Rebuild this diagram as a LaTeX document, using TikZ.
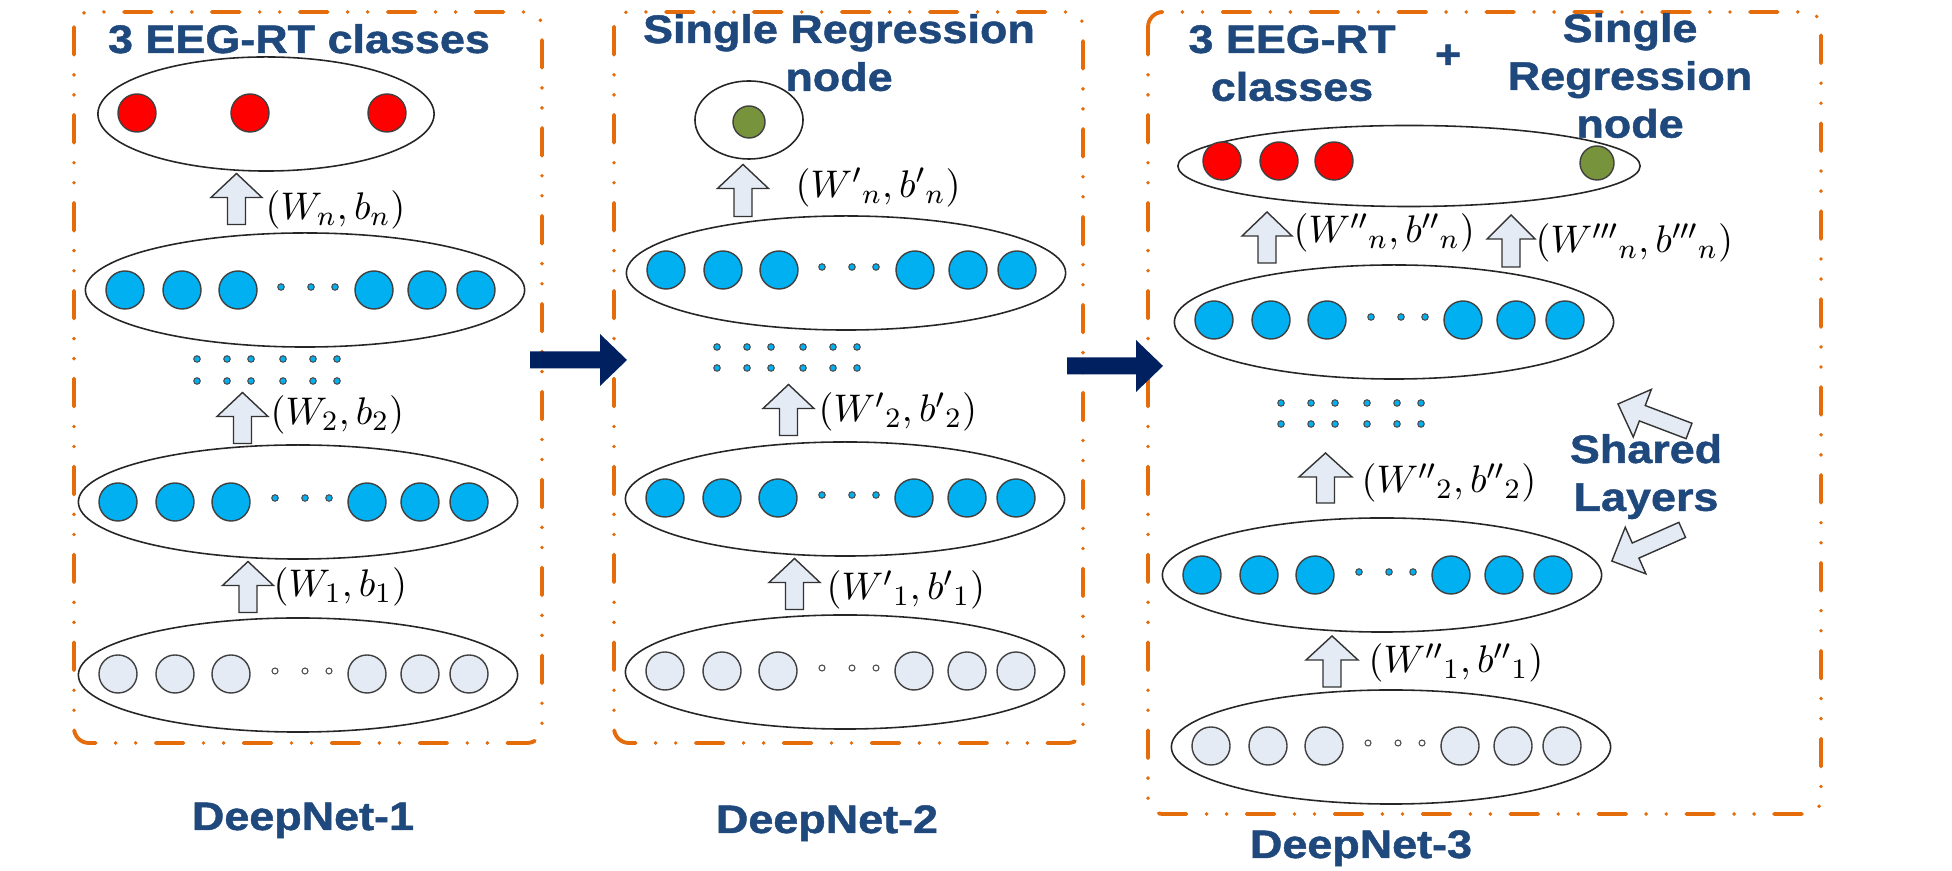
\documentclass[tikz,border=0pt]{standalone}
\usepackage{fontspec}
\setmainfont{Liberation Sans}
\newfontfamily\headfont{Liberation Sans}[FakeStretch=1.13,BoldFeatures={FakeBold=1.2}]
\usetikzlibrary{shapes.geometric}

\definecolor{titleblue}{RGB}{31,73,125}
\definecolor{boxorange}{RGB}{228,108,10}
\definecolor{unitblue}{RGB}{0,176,240}
\definecolor{unitred}{RGB}{255,0,0}
\definecolor{unitgreen}{RGB}{119,147,60}
\definecolor{unitpale}{RGB}{228,235,245}
\definecolor{navy}{RGB}{0,32,96}

\tikzset{
  pics/blockarrow/.style args={#1/#2/#3/#4}{code={
    \path[pic actions] (-#1/2,-#2) -- (#1/2-#4,-#2) -- (#1/2-#4,-#3) -- (#1/2,0)
      -- (#1/2-#4,#3) -- (#1/2-#4,#2) -- (-#1/2,#2) -- cycle;}}}

\begin{document}
\begin{tikzpicture}[x=0.01cm,y=-0.01cm,
  layer/.style={ellipse,draw=black!85,line width=0.45pt,minimum width=4.39cm,minimum height=1.14cm,inner sep=0pt},
  unit/.style={circle,draw=black!75,line width=0.4pt,minimum size=0.38cm,inner sep=0pt},
  outunit/.style={unit,fill=unitred},
  hidunit/.style={unit,fill=unitblue},
  inunit/.style={unit,fill=unitpale},
  hiddot/.style={circle,draw=black!70,line width=0.3pt,fill=unitblue,minimum size=0.065cm,inner sep=0pt},
  indot/.style={hiddot,fill=white,minimum size=0.06cm},
  panel/.style={draw=boxorange,line width=1.1pt,rounded corners=0.15cm,line cap=round,
    dash pattern=on 7.9pt off 5.7pt on 0pt off 5.7pt on 0pt off 5.7pt},
  title/.style={font=\headfont\bfseries\fontsize{11.3}{13.6}\selectfont,text=titleblue,align=center,inner sep=0pt},
  weights/.style={font=\fontsize{11}{13}\selectfont,anchor=west,inner sep=0pt},
  uparrow/.style={draw=black!80,line width=0.4pt,fill=unitpale,rotate=90,line join=miter},
  sharearrow/.style={draw=black!80,line width=0.4pt,fill=unitpale,line join=miter},
  navyarrow/.style={fill=navy}]
\useasboundingbox (0,0) rectangle (1952,871);

% frames of the three nets
\draw[panel] (74,12) rectangle (542,743);
\draw[panel] (614,12) rectangle (1083,743);
\draw[panel] (1148,12) rectangle (1821,814);
\pic[navyarrow] (next12) at (578.5,360) {blockarrow=97/8.5/26/27};
\pic[navyarrow] (next23) at (1115,366) {blockarrow=96/8.5/26/27};

% DeepNet-1
\node[layer,minimum width=3.36cm] (out1) at (266,114) {};
\node[outunit] (out1a) at (137,113) {};
\node[outunit] (out1b) at (250,113) {};
\node[outunit] (out1c) at (387,113) {};
\pic[uparrow] (up1n) at (236.5,199) {blockarrow=51/9/25.5/24};
\node[weights] (w1n) at (265,210) {$(W_n, b_n)$};
\node[layer] (hid1n) at (305,290) {};
\foreach \d [count=\i] in {-180,-123,-67,69,122,171} \node[hidunit] (hid1n-\i) at (305+\d,290) {};
\foreach \d [count=\i] in {-24,6,30} \node[hiddot] (hid1n-d\i) at (305+\d,287) {};
\foreach \x [count=\i] in {197,227,251,283,313,337} {
  \node[hiddot] (skip1a\i) at (\x,359) {};
  \node[hiddot] (skip1b\i) at (\x,381) {};}
\pic[uparrow] (up12) at (242.5,418) {blockarrow=51/9/25.5/24};
\node[weights] (w12) at (270,415) {$(W_2, b_2)$};
\node[layer] (hid11) at (298,502) {};
\foreach \d [count=\i] in {-180,-123,-67,69,122,171} \node[hidunit] (hid11-\i) at (298+\d,502) {};
\foreach \d [count=\i] in {-23,7,31} \node[hiddot] (hid11-d\i) at (298+\d,498) {};
\pic[uparrow] (up11) at (248,587) {blockarrow=51/9/25.5/24};
\node[weights] (w11) at (273,587) {$(W_1, b_1)$};
\node[layer] (in1) at (298,675) {};
\foreach \d [count=\i] in {-180,-123,-67,69,122,171} \node[inunit] (in1-\i) at (298+\d,674) {};
\foreach \d [count=\i] in {-23,7,31} \node[indot] (in1-d\i) at (298+\d,671) {};

% DeepNet-2
\node[layer,minimum width=1.08cm,minimum height=0.78cm] (out2) at (749,120) {};
\node[unit,fill=unitgreen,minimum size=0.32cm] (out2a) at (749,122) {};
\pic[uparrow] (up2n) at (743,190.5) {blockarrow=52/9/25.5/24};
\node[weights] (w2n) at (795,188) {$(W^{\prime}{}_{n}, b^{\prime}{}_{n})$};
\node[layer] (hid2n) at (846,273) {};
\foreach \d [count=\i] in {-180,-123,-67,69,122,171} \node[hidunit] (hid2n-\i) at (846+\d,270) {};
\foreach \d [count=\i] in {-24,6,30} \node[hiddot] (hid2n-d\i) at (846+\d,267) {};
\foreach \x [count=\i] in {717,747,771,803,833,857} {
  \node[hiddot] (skip2a\i) at (\x,347) {};
  \node[hiddot] (skip2b\i) at (\x,368) {};}
\pic[uparrow] (up22) at (788.5,410) {blockarrow=51/9/25.5/24};
\node[weights] (w22) at (818,412) {$(W^{\prime}{}_{2}, b^{\prime}{}_{2})$};
\node[layer] (hid21) at (845,499) {};
\foreach \d [count=\i] in {-180,-123,-67,69,122,171} \node[hidunit] (hid21-\i) at (845+\d,498) {};
\foreach \d [count=\i] in {-23,7,31} \node[hiddot] (hid21-d\i) at (845+\d,495) {};
\pic[uparrow] (up21) at (794.5,584) {blockarrow=51/9/25.5/24};
\node[weights] (w21) at (826,590) {$(W^{\prime}{}_{1}, b^{\prime}{}_{1})$};
\node[layer] (in2) at (845,672) {};
\foreach \d [count=\i] in {-180,-123,-67,69,122,171} \node[inunit] (in2-\i) at (845+\d,671) {};
\foreach \d [count=\i] in {-23,7,31} \node[indot] (in2-d\i) at (845+\d,668) {};

% DeepNet-3
\node[layer,minimum width=4.62cm,minimum height=0.81cm] (out3) at (1409,166) {};
\node[outunit] (out3a) at (1222,161) {};
\node[outunit] (out3b) at (1279,161) {};
\node[outunit] (out3c) at (1334,161) {};
\node[unit,fill=unitgreen,minimum size=0.34cm] (out3d) at (1597,163) {};
\pic[uparrow] (up3n) at (1267,237.5) {blockarrow=51/9/25/24};
\node[weights] (w3n) at (1293,233) {$(W^{\prime\prime}{}_{n}, b^{\prime\prime}{}_{n})$};
\pic[uparrow] (up3r) at (1511,241) {blockarrow=52/9/24/24};
\node[weights] (w3r) at (1535,243) {$(W^{\prime\prime\prime}{}_{n}, b^{\prime\prime\prime}{}_{n})$};
\node[layer] (hid3n) at (1394,322) {};
\foreach \d [count=\i] in {-180,-123,-67,69,122,171} \node[hidunit] (hid3n-\i) at (1394+\d,320) {};
\foreach \d [count=\i] in {-23,7,31} \node[hiddot] (hid3n-d\i) at (1394+\d,317) {};
\foreach \x [count=\i] in {1281,1311,1335,1367,1397,1421} {
  \node[hiddot] (skip3a\i) at (\x,403) {};
  \node[hiddot] (skip3b\i) at (\x,424) {};}
\pic[uparrow] (up32) at (1325.5,478) {blockarrow=50/9/26.5/24};
\node[weights] (w32) at (1361,483) {$(W^{\prime\prime}{}_{2}, b^{\prime\prime}{}_{2})$};
\node[layer] (hid31) at (1382,575) {};
\foreach \d [count=\i] in {-180,-123,-67,69,122,171} \node[hidunit] (hid31-\i) at (1382+\d,575) {};
\foreach \d [count=\i] in {-23,7,31} \node[hiddot] (hid31-d\i) at (1382+\d,572) {};
\pic[uparrow] (up31) at (1332,661.5) {blockarrow=51/9/26/24};
\node[weights] (w31) at (1368,663) {$(W^{\prime\prime}{}_{1}, b^{\prime\prime}{}_{1})$};
\node[layer] (in3) at (1391,747) {};
\foreach \d [count=\i] in {-180,-123,-67,69,122,171} \node[inunit] (in3-\i) at (1391+\d,746) {};
\foreach \d [count=\i] in {-23,7,31} \node[indot] (in3-d\i) at (1391+\d,743) {};
\pic[sharearrow,rotate=159.2] (shareup) at (1653.5,417.5) {blockarrow=76/8.25/25.5/26};
\pic[sharearrow,rotate=203.9] (sharedown) at (1647,545.5) {blockarrow=77/8.25/25.5/26};

% headings
\node[title,anchor=base] (head1) at (299,53) {3 EEG-RT classes};
\node[title,anchor=north] (head2) at (839,13.5) {Single Regression\\node};
\node[title,anchor=north] (head3a) at (1292,24.5) {3 EEG-RT\\classes};
\node[title,anchor=base] (plus) at (1448,68) {+};
\node[title,anchor=north] (head3b) at (1630,12.5) {Single\\Regression\\node};
\node[title,anchor=north] (shared) at (1646,433.5) {Shared\\Layers};
\node[title,anchor=base] (name1) at (303,830) {DeepNet-1};
\node[title,anchor=base] (name2) at (827,833) {DeepNet-2};
\node[title,anchor=base] (name3) at (1361,858) {DeepNet-3};
\end{tikzpicture}
\end{document}
